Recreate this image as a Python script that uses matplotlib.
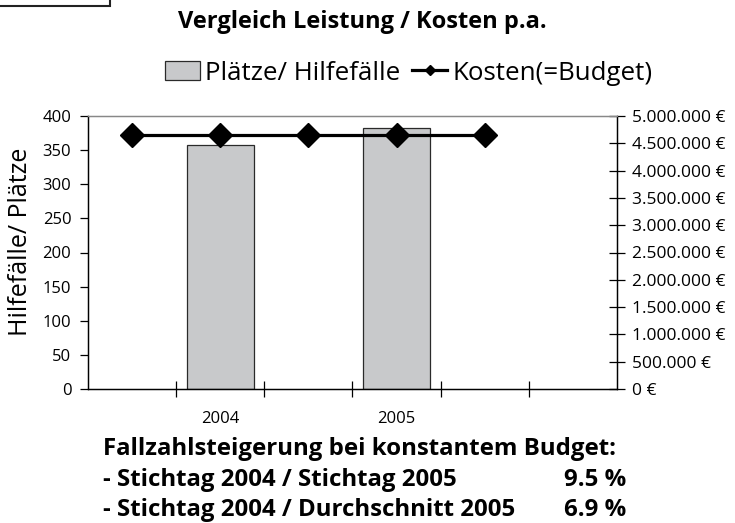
import matplotlib
matplotlib.use("Agg")
import matplotlib.pyplot as plt
import numpy as np
from matplotlib.ticker import FuncFormatter, MultipleLocator, FixedLocator
from matplotlib.patches import Rectangle

plt.rcParams['font.family'] = ['Open Sans', 'DejaVu Sans']

categories = ["", "2004", "", "2005", "", ""]
places = [np.nan, 358, np.nan, 383, np.nan, np.nan]
costs = [4650000, 4650000, 4650000, 4650000, 4650000, np.nan]

title = "Vergleich Leistung / Kosten p.a."
bar_label = "Plätze/ Hilfefälle"
line_label = "Kosten(=Budget)"
ylabel = "Hilfefälle/ Plätze"
note_head = "Fallzahlsteigerung bei konstantem Budget:"
note_rows = ["- Stichtag 2004 / Stichtag 2005", "- Stichtag 2004 / Durchschnitt 2005"]
note_vals = ["9.5 %", "6.9 %"]

W, H = 735, 523
fig = plt.figure(figsize=(W / 100, H / 100), dpi=100)
ax = fig.add_axes([88 / W, 1 - 389 / H, (617 - 88) / W, (389 - 116) / H])
ax2 = ax.twinx()

x = np.arange(len(categories))
ax.bar(x, places, width=0.76, color="#c8c9cb", edgecolor="#2a2a2a", linewidth=0.9, label=bar_label, zorder=2)
ax.set_xlim(-0.5, len(categories) - 0.5)
ax.set_ylim(0, 400)
ax.yaxis.set_major_locator(MultipleLocator(50))
ax.set_xticks(x)
ax.set_xticklabels(categories, fontsize=12)
ax.tick_params(axis='x', which='major', length=0, pad=16)
ax.xaxis.set_minor_locator(FixedLocator(np.arange(0.5, len(categories) - 0.5, 1.0)))
ax.tick_params(axis='x', which='minor', direction='inout', length=11, width=0.9)
ax.tick_params(axis='y', direction='out', length=6, width=0.9, labelsize=12, pad=6)

fig.text(21 / W, 1 - 242 / H, ylabel, rotation=90, ha='center', va='center', fontsize=18)

ln, = ax2.plot(x, costs, color="black", linewidth=2.3, marker="D", markersize=12,
               markerfacecolor="black", markeredgecolor="black", label=line_label, zorder=3)
ax2.set_ylim(0, 5000000)
ax2.yaxis.set_major_locator(MultipleLocator(500000))


def euro(v, pos):
    s = f"{int(round(v)):,}".replace(",", ".")
    return f"{s} €"


ax2.yaxis.set_major_formatter(FuncFormatter(euro))
ax2.tick_params(axis='y', direction='inout', length=11, width=0.9, labelsize=12.5, pad=5)

for a in (ax, ax2):
    a.spines['top'].set_color("#888888")
    a.spines['top'].set_linewidth(0.9)
    for s in ('left', 'right', 'bottom'):
        a.spines[s].set_color("black")
        a.spines[s].set_linewidth(0.9)

fig.text(362 / W, 1 - 22 / H, title, ha='center', va='center', fontsize=17, fontweight='bold')

handles = [ax.containers[0], ln]
fig.legend(handles, [bar_label, line_label], loc='center left', bbox_to_anchor=(165 / W, 1 - 73 / H),
           ncol=2, frameon=False, fontsize=18.6, handlelength=1.36, handletextpad=0.2,
           columnspacing=0.45, markerscale=0.45, borderpad=0, borderaxespad=0)

fig.text(103 / W, 1 - 449 / H, note_head, ha='left', va='center', fontsize=17.3, fontweight='bold')
for i, (r, v) in enumerate(zip(note_rows, note_vals)):
    yy = 1 - (480 + 30 * i) / H
    fig.text(103 / W, yy, r, ha='left', va='center', fontsize=17.3, fontweight='bold')
    fig.text(626 / W, yy, v, ha='right', va='center', fontsize=17.3, fontweight='bold')

fig.add_artist(Rectangle((-2 / W, 1 - 6 / H), 112 / W, 10 / H, transform=fig.transFigure,
                         fill=False, edgecolor="#222222", linewidth=1.5))

fig.savefig("out.png", dpi=100)
